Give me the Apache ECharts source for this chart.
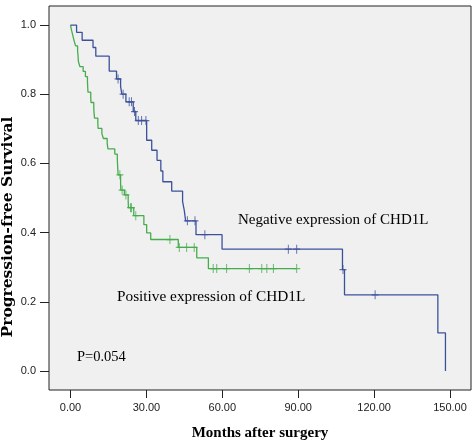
<!DOCTYPE html>
<html>
<head>
<meta charset="utf-8">
<script src="https://cdn.jsdelivr.net/npm/echarts@6/dist/echarts.min.js"></script>
<style>
  html, body { margin: 0; padding: 0; background: #fff; }
  #chart { width: 476px; height: 446px; }
</style>
</head>
<body>
<div id="chart"></div>
<script>
// Kaplan-Meier steps: [months, survival]
var negSteps = [
  [0, 1.0], [2.4, 0.979], [4.6, 0.956], [8.9, 0.935], [10.0, 0.910],
  [15.3, 0.867], [18.2, 0.844], [19.8, 0.822], [20.3, 0.800], [21.9, 0.778],
  [24.8, 0.750], [25.8, 0.724], [30.1, 0.667], [32.1, 0.638], [34.2, 0.609],
  [35.7, 0.578], [36.5, 0.547], [40.0, 0.520], [44.3, 0.490], [45.0, 0.463],
  [45.5, 0.434], [49.6, 0.394], [59.9, 0.352], [107.5, 0.293], [108.3, 0.220],
  [145.2, 0.110], [148.2, 0.0]
];
var negCensored = [18.8, 20.8, 23.2, 24.1, 25.3, 26.8, 28.1, 29.8, 46.2, 49.2, 53.1, 86.1, 89.4, 107.7, 120.4];

var posSteps = [
  [0, 1.0], [0.4, 0.985], [0.9, 0.970], [1.4, 0.955], [2.0, 0.940],
  [2.8, 0.925], [3.0, 0.910], [3.1, 0.895], [3.7, 0.880], [5.0, 0.866],
  [5.9, 0.851], [6.7, 0.836], [6.8, 0.821], [6.9, 0.806], [8.0, 0.791],
  [8.1, 0.776], [9.2, 0.761], [9.3, 0.746], [9.5, 0.731], [10.8, 0.716],
  [10.9, 0.701], [12.4, 0.686], [13.0, 0.672], [14.5, 0.657], [14.8, 0.642],
  [17.5, 0.627], [18.5, 0.612], [18.6, 0.597], [18.7, 0.582], [18.8, 0.567],
  [19.8, 0.540], [19.9, 0.523], [21.3, 0.509], [22.8, 0.491], [22.9, 0.472],
  [25.0, 0.449], [29.0, 0.423], [30.1, 0.399], [31.7, 0.380], [42.6, 0.357],
  [49.9, 0.327], [54.5, 0.296], [89.4, 0.296]
];
var posCensored = [19.5, 20.4, 21.9, 23.7, 24.1, 25.8, 39.3, 43.0, 45.9, 48.9,
  56.4, 57.8, 61.7, 70.7, 75.6, 77.6, 80.2, 89.4];

var xTicks = [0, 30, 60, 90, 120, 150];
var yTicks = [0, 0.2, 0.4, 0.6, 0.8, 1.0];

var blue = '#3c519c';
var green = '#45ad4c';

// survival level at time t from a step table
function levelAt(steps, t) {
  var s = steps[0][1];
  for (var i = 0; i < steps.length; i++) {
    if (steps[i][0] <= t) s = steps[i][1];
  }
  return s;
}
function censorPoints(steps, times) {
  return times.map(function (t) { return [t, levelAt(steps, t)]; });
}

var plusMark = 'path://M4.3,0 H5.7 V4.3 H10 V5.7 H5.7 V10 H4.3 V5.7 H0 V4.3 H4.3 Z';

var chart = echarts.init(document.getElementById('chart'));

var option = {
  backgroundColor: '#fff',
  animation: false,
  grid: {
    left: 49, right: 5, top: 6, bottom: 53,
    show: true,
    backgroundColor: '#f0f0f0',
    borderColor: '#222',
    borderWidth: 1
  },
  xAxis: {
    type: 'value',
    min: -8.5, max: 158.3,
    name: 'Months after surgery',
    nameLocation: 'middle',
    nameGap: 36,
    nameTextStyle: { fontFamily: 'Liberation Serif', fontWeight: 'bold', fontSize: 15, color: '#000' },
    axisLine: { show: false, onZero: false },
    splitLine: { show: false },
    axisTick: { show: true, length: 8, customValues: xTicks, lineStyle: { color: '#222' } },
    axisLabel: {
      customValues: xTicks,
      margin: 12,
      fontFamily: 'Liberation Sans', fontSize: 11, color: '#222',
      formatter: function (v) { return v.toFixed(2); }
    }
  },
  yAxis: {
    type: 'value',
    min: -0.055, max: 1.055,
    axisLine: { show: false, onZero: false },
    splitLine: { show: false },
    axisTick: { show: true, length: 9, customValues: yTicks, lineStyle: { color: '#222' } },
    axisLabel: {
      customValues: yTicks,
      margin: 13,
      fontFamily: 'Liberation Sans', fontSize: 11, color: '#222',
      formatter: function (v) { return v.toFixed(1); }
    }
  },
  graphic: [
    { type: 'text', x: 8, y: 227, rotation: Math.PI / 2,
      style: { text: 'Progression-free Survival', fill: '#000',
        font: 'bold 15.5px "DejaVu Serif"', align: 'center', verticalAlign: 'middle' } },
    { type: 'text', x: 238, y: 220,
      style: { text: 'Negative expression of CHD1L', fill: '#000', font: '15px "Liberation Serif"', verticalAlign: 'middle' } },
    { type: 'text', x: 117, y: 297,
      style: { text: 'Positive expression of CHD1L', fill: '#000', font: '15.3px "Liberation Serif"', verticalAlign: 'middle' } },
    { type: 'text', x: 77, y: 357,
      style: { text: 'P=0.054', fill: '#000', font: '14.5px "Liberation Serif"', verticalAlign: 'middle' } }
  ],
  series: [
    {
      name: 'Negative', type: 'line', step: 'end', data: negSteps,
      showSymbol: false, lineStyle: { color: blue, width: 1.3 }, z: 3
    },
    {
      name: 'Positive', type: 'line', step: 'end', data: posSteps,
      showSymbol: false, lineStyle: { color: green, width: 1.3 }, z: 2
    },
    {
      name: 'Negative censored', type: 'scatter', data: censorPoints(negSteps, negCensored),
      symbol: plusMark, symbolSize: [7, 9], itemStyle: { color: blue }, z: 4
    },
    {
      name: 'Positive censored', type: 'scatter', data: censorPoints(posSteps, posCensored),
      symbol: plusMark, symbolSize: [7, 9], itemStyle: { color: green }, z: 4
    }
  ]
};

chart.setOption(option);
</script>
</body>
</html>
